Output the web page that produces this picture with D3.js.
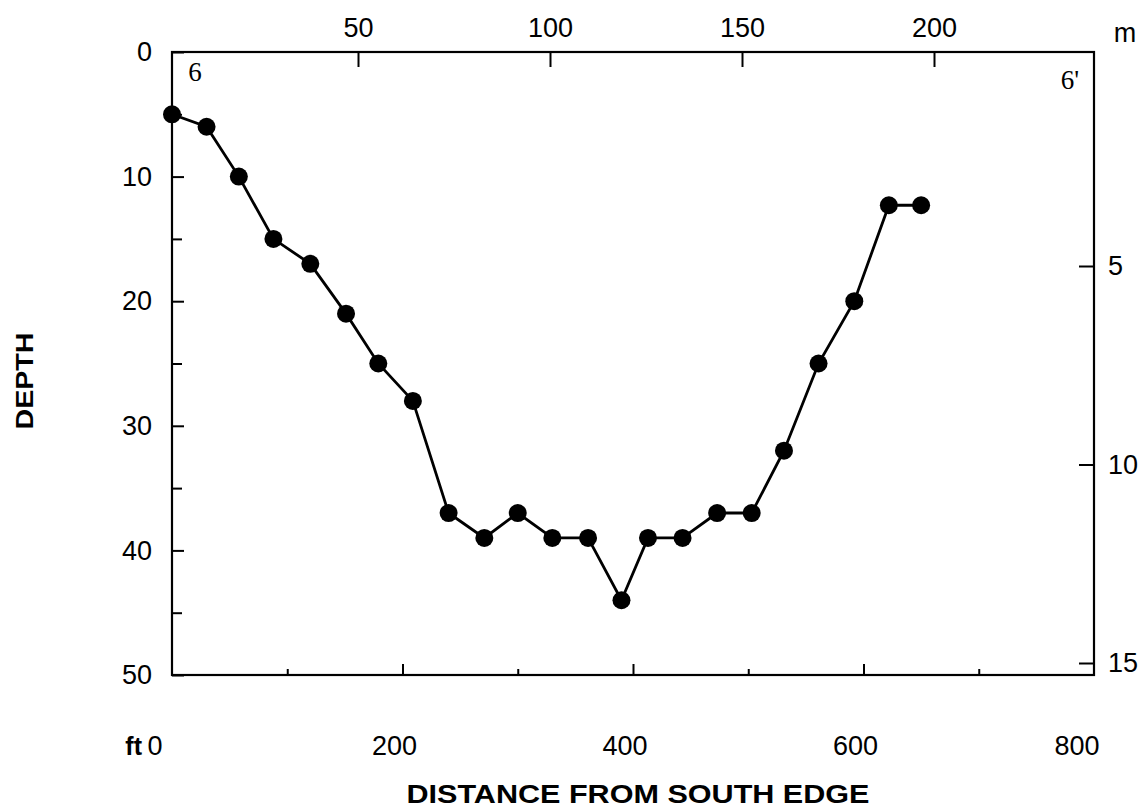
<!DOCTYPE html>
<html>
<head>
<meta charset="utf-8">
<script src="https://cdn.jsdelivr.net/npm/d3@7"></script>
<style>
  body { margin: 0; background: #fff; }
  svg { display: block; font-family: "Liberation Sans", Arial, sans-serif; }
</style>
</head>
<body>
<svg width="1143" height="810"></svg>
<script>
// distance from south edge (ft) and depth (ft)
const distFt = [0, 30, 58, 88, 120, 151, 179, 209, 240, 271, 300, 330, 361, 390, 413, 443, 473, 503, 531, 561, 592, 622, 650];
const depthFt = [5, 6, 10, 15, 17, 21, 25, 28, 37, 39, 37, 39, 39, 44, 39, 39, 37, 37, 32, 25, 20, 12.3, 12.3];

const ftTicks = [0, 200, 400, 600, 800];
const ftMinor = [100, 300, 500, 700];
const depthTicks = [0, 10, 20, 30, 40, 50];
const depthMinor = [5, 15, 25, 35, 45];
const mTopTicks = [50, 100, 150, 200];
const mRightTicks = [5, 10, 15];

const svg = d3.select("svg");

const x = d3.scaleLinear().domain([0, 800]).range([172, 1094]);
const y = d3.scaleLinear().domain([0, 50]).range([52, 675]);
// metre scales (drawn by hand on the original, so not exactly ft/3.28)
const xm = d3.scaleLinear().domain([0, 200]).range([166, 934]);
const ym = d3.scaleLinear().domain([0, 15]).range([67.5, 663]);

// frame
svg.append("rect")
  .attr("x", x(0)).attr("y", y(0))
  .attr("width", x(800) - x(0)).attr("height", y(50) - y(0))
  .attr("fill", "none").attr("stroke", "#000").attr("stroke-width", 2.2);

function styleAxis(g) {
  g.select(".domain").remove();
  g.selectAll("line").attr("stroke", "#000").attr("stroke-width", 2);
  g.selectAll("text").attr("fill", "#000").attr("font-size", 27);
}

// left axis (depth ft)
svg.append("g").attr("transform", `translate(${x(0)},0)`)
  .call(d3.axisLeft(y).tickValues(depthTicks).tickSize(-12).tickPadding(20))
  .call(styleAxis);
svg.append("g").attr("transform", `translate(${x(0)},0)`)
  .call(d3.axisLeft(y).tickValues(depthMinor).tickSize(-10).tickFormat(""))
  .call(styleAxis);

// bottom axis (ft)
svg.append("g").attr("transform", `translate(0,${y(50)})`)
  .call(d3.axisBottom(x).tickValues(ftTicks.slice(1, 4)).tickSize(-11).tickFormat(""))
  .call(styleAxis);
svg.append("g").attr("transform", `translate(0,${y(50)})`)
  .call(d3.axisBottom(x).tickValues(ftMinor).tickSize(-6).tickFormat(""))
  .call(styleAxis);
svg.append("g").selectAll("text")
  .data(ftTicks)
  .join("text")
  .attr("x", d => d === 0 ? x(d) - 17 : d === 800 ? x(d) - 17 : x(d) - 8)
  .attr("y", 755)
  .attr("text-anchor", "middle")
  .attr("font-size", 27)
  .text(d => d);
svg.append("text")
  .attr("x", x(0) - 30).attr("y", 755)
  .attr("text-anchor", "end")
  .attr("font-size", 25).attr("font-weight", "bold")
  .text("ft");

// top axis (m)
svg.append("g").attr("transform", `translate(0,${y(0)})`)
  .call(d3.axisTop(xm).tickValues(mTopTicks).tickSize(-15).tickPadding(15))
  .call(styleAxis);
svg.append("text")
  .attr("x", 1125).attr("y", 42)
  .attr("text-anchor", "middle")
  .attr("font-size", 27)
  .text("m");

// right axis (m)
svg.append("g").attr("transform", `translate(${x(800)},0)`)
  .call(d3.axisRight(ym).tickValues(mRightTicks).tickSize(-15).tickPadding(14))
  .call(styleAxis);

// section end markers
svg.append("text")
  .attr("x", 195).attr("y", 81)
  .attr("text-anchor", "middle")
  .attr("font-family", "'Liberation Serif', 'DejaVu Serif', serif")
  .attr("font-size", 27)
  .text("6");
svg.append("text")
  .attr("x", 1070).attr("y", 89)
  .attr("text-anchor", "middle")
  .attr("font-family", "'Liberation Serif', 'DejaVu Serif', serif")
  .attr("font-size", 27)
  .text("6'");

// profile line and points
const pts = distFt.map((d, i) => [d, depthFt[i]]);
const line = d3.line().x(d => x(d[0])).y(d => y(d[1]));

svg.append("path")
  .datum(pts)
  .attr("d", line)
  .attr("fill", "none")
  .attr("stroke", "#000")
  .attr("stroke-width", 2.8);

svg.append("g").selectAll("circle")
  .data(pts)
  .join("circle")
  .attr("cx", d => x(d[0]))
  .attr("cy", d => y(d[1]))
  .attr("r", 9)
  .attr("fill", "#000");

// axis titles
svg.append("text")
  .attr("transform", "translate(33,381) rotate(-90)")
  .attr("text-anchor", "middle")
  .attr("font-size", 24).attr("font-weight", "bold")
  .attr("textLength", 97).attr("lengthAdjust", "spacingAndGlyphs")
  .text("DEPTH");

svg.append("text")
  .attr("x", 638).attr("y", 803)
  .attr("text-anchor", "middle")
  .attr("font-size", 25).attr("font-weight", "bold")
  .attr("textLength", 463).attr("lengthAdjust", "spacingAndGlyphs")
  .text("DISTANCE FROM SOUTH EDGE");
</script>
</body>
</html>
